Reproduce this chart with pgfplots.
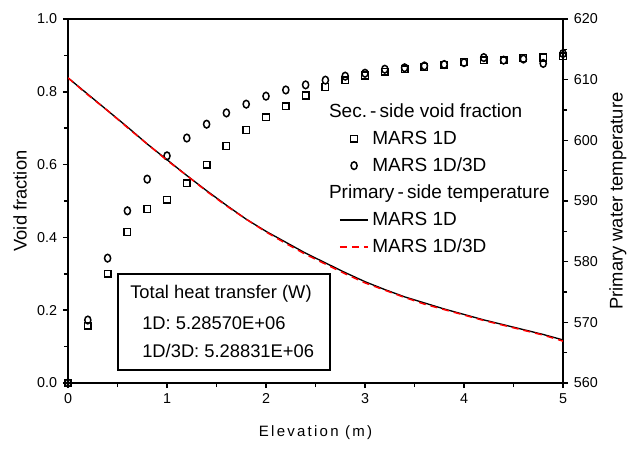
\documentclass[border=0pt]{standalone}
\usepackage{fontspec}
\setmainfont{Liberation Sans}
\usepackage{pgfplots}
\pgfplotsset{compat=1.18}
\pgfplotstableread{
x sq ci
0.0 0.000 0.000
0.2 0.157 0.173
0.4 0.300 0.343
0.6 0.415 0.473
0.8 0.478 0.560
1.0 0.503 0.624
1.2 0.549 0.673
1.4 0.600 0.711
1.6 0.651 0.742
1.8 0.695 0.766
2.0 0.730 0.788
2.2 0.760 0.805
2.4 0.790 0.819
2.6 0.813 0.832
2.8 0.832 0.843
3.0 0.845 0.851
3.2 0.855 0.862
3.4 0.862 0.866
3.6 0.868 0.871
3.8 0.874 0.875
4.0 0.882 0.880
4.2 0.887 0.894
4.4 0.887 0.887
4.6 0.893 0.890
4.8 0.894 0.878
5.0 0.898 0.905
}\voidtab
\pgfplotstableread{
x t1 t3
0.0 610.3 610.3
0.2 607.6 607.5
0.4 604.9 604.9
0.6 602.2 602.1
0.8 599.4 599.4
1.0 596.8 596.7
1.2 594.2 594.2
1.4 591.7 591.6
1.6 589.3 589.2
1.8 587.0 587.0
2.0 585.0 584.9
2.2 583.2 583.0
2.4 581.4 581.2
2.6 579.8 579.6
2.8 578.2 578.0
3.0 576.7 576.5
3.2 575.4 575.3
3.4 574.2 574.1
3.6 573.2 573.0
3.8 572.2 572.1
4.0 571.3 571.2
4.2 570.4 570.3
4.4 569.6 569.5
4.6 568.8 568.7
4.8 568.0 567.9
5.0 567.1 566.9
}\temptab
\begin{document}
\begin{tikzpicture}
\pgfplotsset{
  common/.style={scale only axis, width=297pt, height=218.4pt, at={(0pt,0pt)}, anchor=south west,
    xmin=0, xmax=5,
    /pgf/number format/assume math mode=true,
    tick align=outside, major tick length=3pt, minor tick length=2.4pt,
    every tick/.style={black, line width=0.9pt},
    axis line style={line width=0.9pt},
    tick label style={font=\fontsize{8.6}{10}\selectfont},
    label style={font=\fontsize{11}{13}\selectfont},
  }
}
\begin{axis}[common, ymin=0, ymax=1, clip mode=individual,
  xtick={0,1,2,3,4,5}, minor x tick num=1,
  ytick={0,0.2,0.4,0.6,0.8,1}, minor y tick num=1,
  xtick pos=left, ytick pos=left,
  yticklabel style={/pgf/number format/fixed, /pgf/number format/fixed zerofill, /pgf/number format/precision=1},
  xlabel={\fontsize{9}{11}\selectfont\addfontfeatures{LetterSpace=15}Elevation (m)},
  ylabel={Void fraction},
  xlabel style={at={(axis description cs:0.5,-0.137)}, anchor=center},
  ylabel style={at={(axis description cs:-0.097,0.5)}, anchor=center},
]
\addplot[only marks, mark=square, mark size=2pt, line width=0.9pt, black] table[x=x,y=sq]{\voidtab};
\addplot[only marks, mark=o, mark size=2.3pt, line width=0.9pt, black, mark options={xscale=0.8, fill=white}] table[x=x,y=ci]{\voidtab};
\draw[line width=0.9pt] (axis cs:0.505,0.036) rectangle (axis cs:2.646,0.2995);
\node[anchor=west, inner sep=0pt, font=\fontsize{11}{13}\selectfont] at (axis cs:0.626,0.2445) {Total heat transfer (W)};
\node[anchor=west, inner sep=0pt, font=\fontsize{11}{13}\selectfont] at (axis cs:0.747,0.165) {1D: 5.28570E+06};
\node[anchor=west, inner sep=0pt, font=\fontsize{11}{13}\selectfont] at (axis cs:0.747,0.088) {1D/3D: 5.28831E+06};
\end{axis}
\begin{axis}[common, ymin=560, ymax=620,
  axis y line*=right, axis x line=none,
  ytick={560,570,580,590,600,610,620}, minor y tick num=1,
  ylabel={Primary water temperature},
  ylabel style={at={(axis description cs:1.111,0.5)}, anchor=center},
  legend style={draw=none, fill=none, at={(axis description cs:0.547,0.778)}, anchor=north west,
    font=\fontsize{11.4}{13.5}\selectfont, row sep=2.6pt, inner sep=0pt},
  legend cell align=left,
]
\addlegendimage{empty legend}
\addlegendentry{\hspace*{-26pt}Sec.\,-\,side void fraction}
\addlegendimage{only marks, mark=square, mark size=2pt, line width=0.9pt, black}
\addlegendentry{MARS 1D}
\addlegendimage{only marks, mark=o, mark size=2.3pt, line width=0.9pt, black, mark options={xscale=0.8}}
\addlegendentry{MARS 1D/3D}
\addlegendimage{empty legend}
\addlegendentry{\hspace*{-26pt}Primary\,-\,side temperature}
\addplot[black, line width=0.8pt, no marks] table[x=x,y=t1]{\temptab};
\addlegendentry{MARS 1D}
\addplot[red, line width=0.9pt, dash pattern=on 4.2pt off 3pt, no marks] table[x=x,y=t3]{\temptab};
\addlegendentry{MARS 1D/3D}
\end{axis}
\pgfresetboundingbox
\path (-40.8pt,-40.2pt) rectangle (336pt,229.8pt);
\end{tikzpicture}
\end{document}
